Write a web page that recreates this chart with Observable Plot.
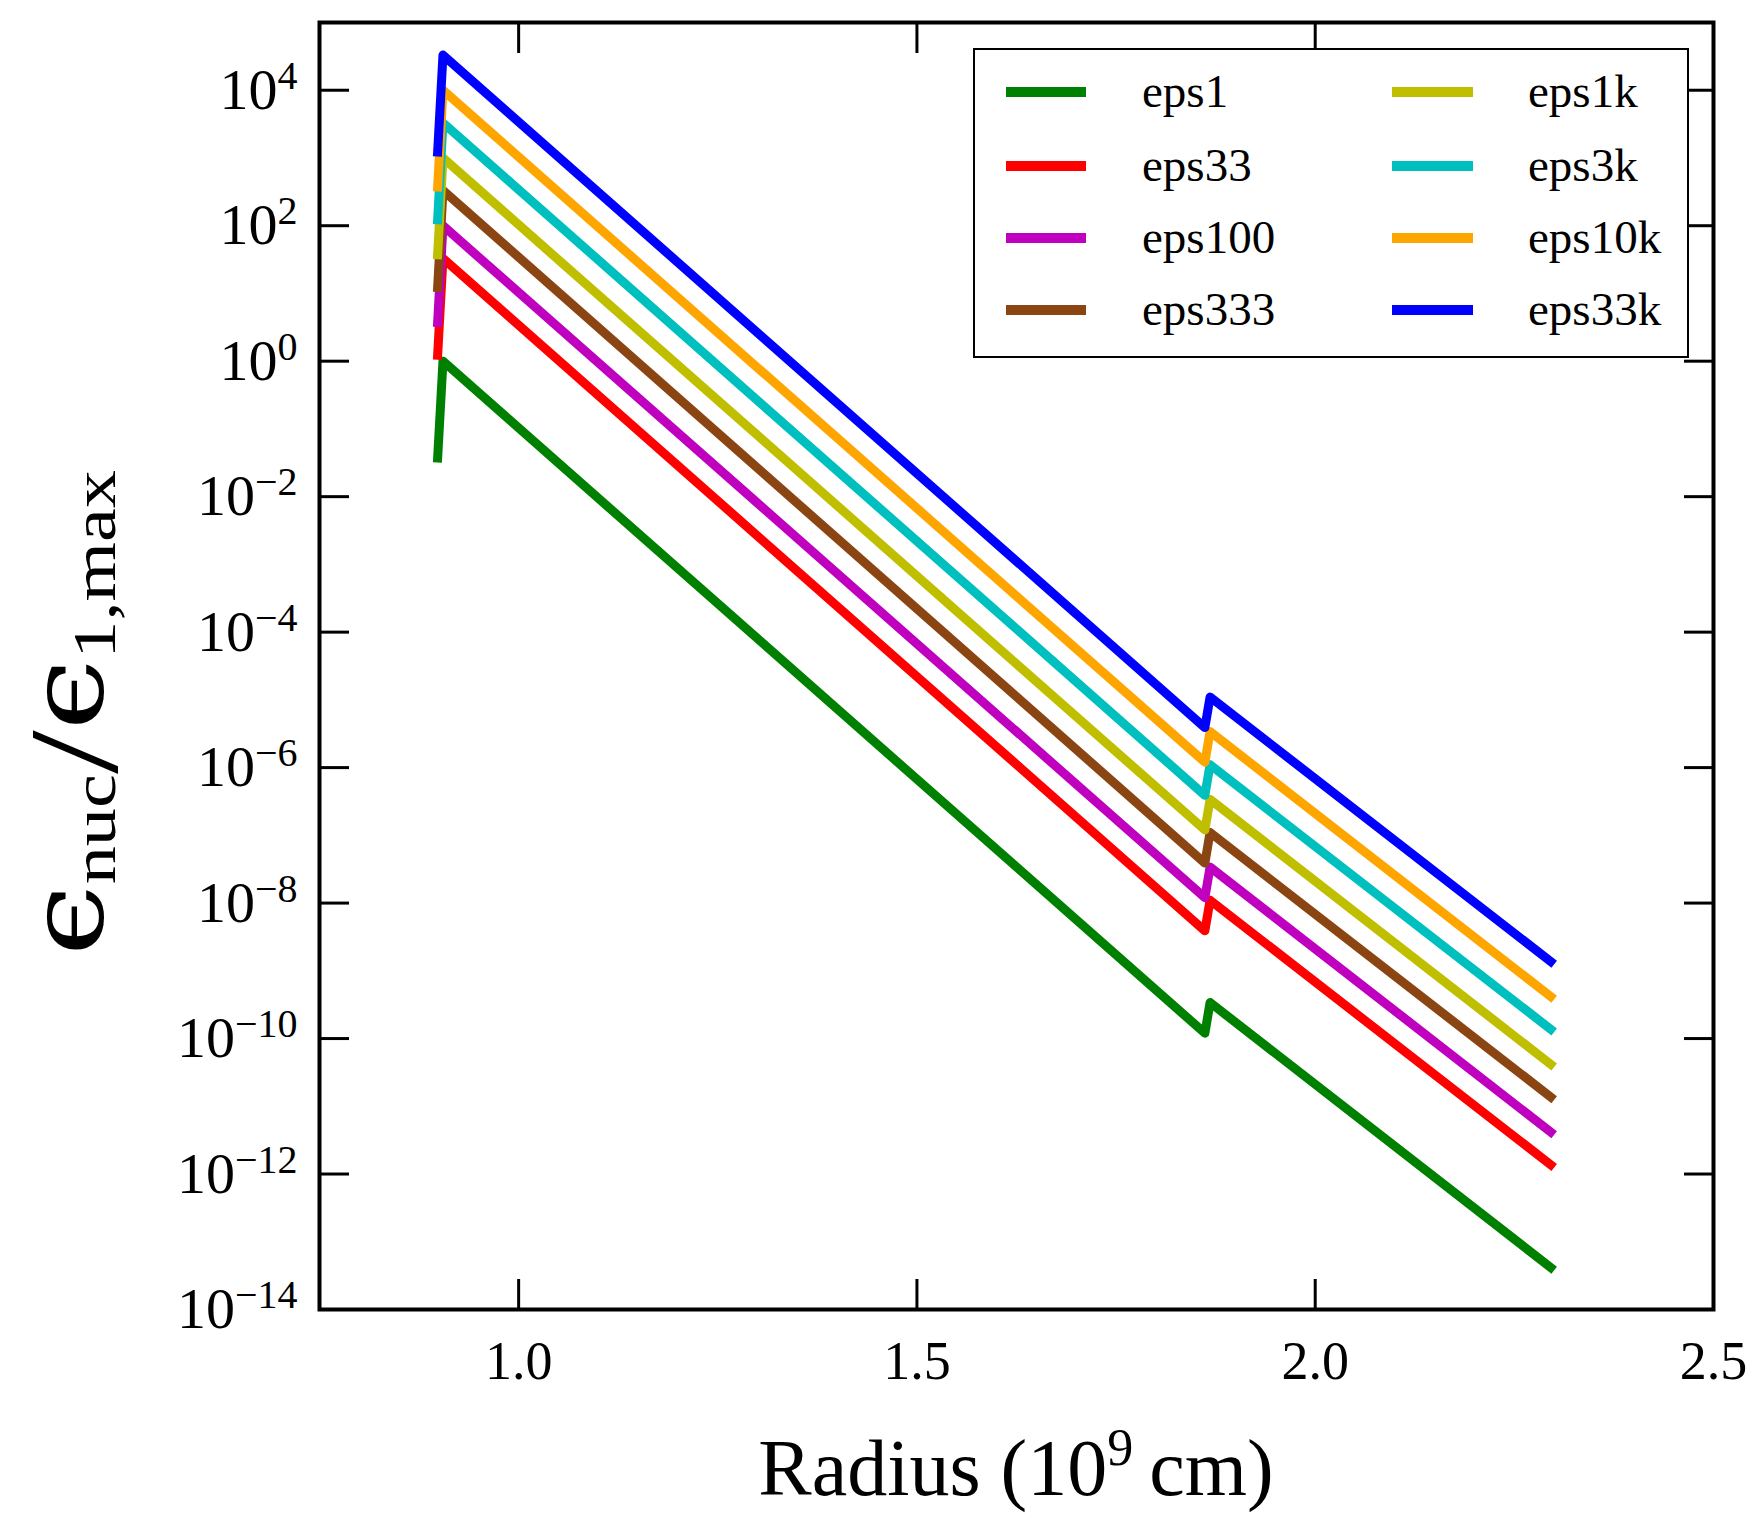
<!DOCTYPE html>
<html>
<head>
<meta charset="utf-8">
<script src="https://cdn.jsdelivr.net/npm/d3@7"></script>
<script src="https://cdn.jsdelivr.net/npm/@observablehq/plot@0.6"></script>
<style>
  body { margin: 0; background: #fff; }
  #chart { width: 1759px; height: 1534px; }
  #chart svg { display: block; }
</style>
</head>
<body>
<div id="chart"></div>
<script>
// Nuclear energy generation rate, normalised to the peak of the eps1 run.
const seriesNames  = ["eps1", "eps33", "eps100", "eps333", "eps1k", "eps3k", "eps10k", "eps33k"];
const seriesColors = ["#008000", "#ff0000", "#bf00bf", "#8b4513", "#bfbf00", "#00bfbf", "#ffa500", "#0000ff"];

// Radius samples (10^9 cm) shared by every run
const radius = [0.898, 0.905, 1.8615, 1.868, 2.30];

const eps1   = [3.2e-2, 1.0,    1.2e-10, 3.4e-10, 3.8e-14];
const eps33  = [1.05,   33,     3.9e-9,  1.1e-8,  1.25e-12];
const eps100 = [3.2,    100,    1.2e-8,  3.4e-8,  3.8e-12];
const eps333 = [10.5,   333,    3.9e-8,  1.1e-7,  1.25e-11];
const eps1k  = [32,     1000,   1.2e-7,  3.4e-7,  3.8e-11];
const eps3k  = [105,    3300,   3.9e-7,  1.1e-6,  1.25e-10];
const eps10k = [320,    1.0e4,  1.2e-6,  3.4e-6,  3.8e-10];
const eps33k = [1050,   3.3e4,  3.9e-6,  1.1e-5,  1.25e-9];

const xTicks = [1.0, 1.5, 2.0, 2.5];
const yTicks = [1e-14, 1e-12, 1e-10, 1e-8, 1e-6, 1e-4, 1e-2, 1e0, 1e2, 1e4];

const seriesValues = [eps1, eps33, eps100, eps333, eps1k, eps3k, eps10k, eps33k];
const rows = seriesNames.flatMap((name, k) =>
  seriesValues[k].map((v, i) => ({series: name, radius: radius[i], value: v})));

const FONT = "'Liberation Serif', 'DejaVu Serif', serif";
const W = 1759, H = 1534;
const M = {left: 319, right: 46, top: 22, bottom: 225};

const plot = Plot.plot({
  width: W,
  height: H,
  marginLeft: M.left,
  marginRight: M.right,
  marginTop: M.top,
  marginBottom: M.bottom,
  style: {fontFamily: FONT, fontSize: "54px", color: "black", background: "white"},
  x: {domain: [0.75, 2.5]},
  y: {type: "log", domain: [1e-14, 1e5]},
  color: {domain: seriesNames, range: seriesColors},
  marks: [
    Plot.line(rows, {
      x: "radius", y: "value", z: "series", stroke: "series",
      strokeWidth: 9, strokeLinejoin: "round", strokeLinecap: "butt"
    }),
    Plot.frame({stroke: "black", strokeWidth: 4}),
    Plot.axisX(xTicks, {anchor: "bottom", tickSize: -30, tickPadding: 61, strokeWidth: 3,
      fontSize: 54, tickFormat: d3.format(".1f"), label: null}),
    Plot.axisX(xTicks, {anchor: "top", tickSize: -30, strokeWidth: 3,
      tickFormat: () => "", label: null}),
    Plot.axisY(yTicks, {anchor: "left", tickSize: -30, tickPadding: 52, strokeWidth: 3,
      fontSize: 58, tickFormat: d => String(Math.round(Math.log10(d))), label: null}),
    Plot.axisY(yTicks, {anchor: "right", tickSize: -30, strokeWidth: 3,
      tickFormat: () => "", label: null})
  ]
});

document.getElementById("chart").appendChild(plot);
const svg = d3.select(plot);

// Power-of-ten tick labels: "10" with a raised exponent
svg.selectAll('g[aria-label="y-axis tick label"] text').each(function () {
  const t = d3.select(this);
  const s = t.text();
  if (s === "") return;
  const e = +s;
  t.text("");
  t.append("tspan").text("10");
  t.append("tspan")
    .attr("font-size", 40)
    .attr("dy", -20)
    .text(e < 0 ? "\u2212" + Math.abs(e) : String(e));
});

// x-axis title
const xt = svg.append("text")
  .attr("x", (M.left + W - M.right) / 2)
  .attr("y", 1495)
  .attr("text-anchor", "middle")
  .attr("font-family", FONT)
  .attr("font-size", 80)
  .attr("fill", "black");
xt.append("tspan").text("Radius (10");
xt.append("tspan").attr("font-size", 52).attr("dy", -30).text("9");
xt.append("tspan").attr("dy", 30).text("\u2009cm)");

// y-axis title: ϵ_nuc / ϵ_1,max
const yt = svg.append("text")
  .attr("transform", "translate(103,713) rotate(-90)")
  .attr("text-anchor", "middle")
  .attr("font-family", FONT)
  .attr("fill", "black")
  .attr("font-size", 104)
  .attr("textLength", 486)
  .attr("lengthAdjust", "spacingAndGlyphs");
yt.append("tspan").attr("font-family", "'DejaVu Serif', serif").text("\u03f5");
yt.append("tspan").attr("font-size", 62).attr("dy", 12).text("nuc");
yt.append("tspan").attr("font-size", 128).attr("dy", 2).text("/");
yt.append("tspan").attr("font-family", "'DejaVu Serif', serif").attr("dy", -14).text("\u03f5");
yt.append("tspan").attr("font-size", 62).attr("dy", 12).text("1,max");

// Legend, two columns of four entries
const legend = svg.append("g")
  .attr("font-family", FONT)
  .attr("font-size", 47)
  .attr("text-anchor", "start");
legend.append("rect")
  .attr("x", 974).attr("y", 49).attr("width", 714).attr("height", 308)
  .attr("fill", "white").attr("stroke", "black").attr("stroke-width", 2);
const rowY = [92, 166, 238, 310];
const colX = [{x1: 1006, x2: 1086, tx: 1142}, {x1: 1392, x2: 1473, tx: 1528}];
seriesNames.forEach((name, k) => {
  const c = colX[Math.floor(k / 4)], y = rowY[k % 4];
  legend.append("line")
    .attr("x1", c.x1).attr("x2", c.x2).attr("y1", y).attr("y2", y)
    .attr("stroke", seriesColors[k]).attr("stroke-width", 10);
  legend.append("text")
    .attr("x", c.tx).attr("y", y + 15)
    .attr("text-anchor", "start")
    .attr("fill", "black")
    .text(name);
});
</script>
</body>
</html>
